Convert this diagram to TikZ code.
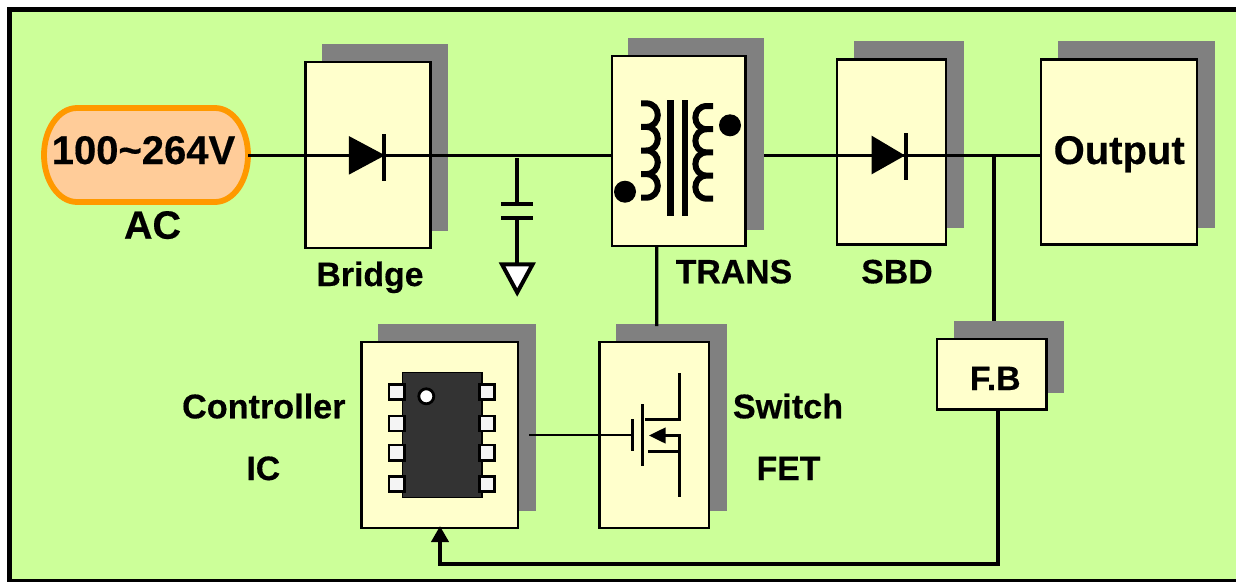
\documentclass[tikz,border=0pt]{standalone}
\usepackage{fontspec}
\setmainfont[BoldFeatures={FakeBold=0.4}]{Liberation Sans}
\usetikzlibrary{arrows.meta}
\definecolor{bggreen}{HTML}{CCFF99}
\definecolor{boxyellow}{HTML}{FFFFCC}
\definecolor{shadowgrey}{HTML}{808080}
\definecolor{pillfill}{HTML}{FFCC99}
\definecolor{pillline}{HTML}{FF9900}
\definecolor{chipbody}{HTML}{333333}
\definecolor{pinfill}{HTML}{F4F4F4}
\tikzset{
  blockbox/.style={draw=black,fill=boxyellow,line width=2.8pt,rectangle,inner sep=0pt,outer sep=0pt},
  blockshadow/.style={fill=shadowgrey},
  biglabel/.style={anchor=base,inner sep=0pt,outer sep=0pt,font=\fontsize{40}{48}\selectfont\bfseries},
  smalllabel/.style={anchor=base,inner sep=0pt,outer sep=0pt,font=\fontsize{33.8}{40}\selectfont\bfseries},
  widelabel/.style={anchor=base,inner sep=0pt,outer sep=0pt,font=\fontsize{34.2}{40}\selectfont\bfseries},
  thinwire/.style={draw=black,line width=2.7pt},
  thickwire/.style={draw=black,line width=3.9pt},
  fetline/.style={draw=black,line width=3pt},
  chippin/.style={draw=black,fill=pinfill,line width=2.8pt},
  coilline/.style={draw=black,line width=6pt},
  anchorbox/.style={rectangle,inner sep=0pt,outer sep=0pt}
}
\begin{document}
\begin{tikzpicture}[x=1pt,y=-1pt]
\clip (0,0) rectangle (1236,581);
\fill[white] (0,0) rectangle (1236,581);
\draw[line width=5.6pt,fill=bggreen] (9.6,9.6) rectangle (1260,581.8);

% shadows
\fill[blockshadow] (322,44) rectangle (448,230.7);
\fill[blockshadow] (628,38) rectangle (764,230);
\fill[blockshadow] (854,41) rectangle (964,228);
\fill[blockshadow] (1058,41) rectangle (1215,228);
\fill[blockshadow] (378,324) rectangle (535.7,511);
\fill[blockshadow] (616,324) rectangle (727,511);
\fill[blockshadow] (954,321) rectangle (1064,392.7);

% blocks
\node[blockbox,minimum width=125.2pt,minimum height=186pt] (bridge) at (368.1,155) {};
\node[blockbox,minimum width=133.5pt,minimum height=190pt] (trans) at (678.75,151) {};
\node[blockbox,minimum width=109pt,minimum height=185pt] (sbd) at (891.5,151.8) {};
\node[blockbox,minimum width=156pt,minimum height=185pt] (output) at (1119,152.2) {};
\node[blockbox,minimum width=156.5pt,minimum height=186pt] (ic) at (439.75,435) {};
\node[blockbox,minimum width=109.5pt,minimum height=186pt] (fet) at (654.25,435) {};
\node[blockbox,minimum width=109.5pt,minimum height=70.3pt] (fb) at (991.75,374.15) {};

% AC source pill
\draw[draw=pillline,fill=pillfill,line width=5.8pt]
  (77,108) -- (215,108)
  .. controls (233.2,108) and (248,129) .. (248,155)
  .. controls (248,181) and (233.2,202) .. (215,202)
  -- (77,202)
  .. controls (58.8,202) and (44,181) .. (44,155)
  .. controls (44,129) and (58.8,108) .. (77,108) -- cycle;
\node[anchorbox,minimum width=204pt,minimum height=94pt] (pill) at (146,155.3) {};

% connectors
\coordinate (transout) at (764,155.7);
\coordinate (gate) at (632.3,435);
\draw[thinwire] (pill.east) -- (trans.west |- pill.east);
\draw[thinwire] (transout) -- (output.west |- transout);
\draw[thickwire] ([xshift=1.95pt]fb.north |- transout) -- ([xshift=1.95pt,yshift=18pt]fb.north);
\draw[line width=3.4pt] ([xshift=-22pt]trans.south) -- ([xshift=2.45pt,yshift=16pt]fet.north);
\draw[thinwire] ([xshift=11pt]ic.east) -- (gate);
\draw[thickwire,-{Triangle[width=17pt,length=16pt]}]
  ([xshift=5.95pt]fb.south) |- (440,564.3) -- ([xshift=0.25pt,yshift=2pt]ic.south);

% bridge diode
\fill (348.8,136) -- (385,155.3) -- (348.8,174.7) -- cycle;
\draw[line width=4pt] (383.8,134) -- (383.8,180.7);
% SBD diode
\fill (871.7,135.7) -- (905,155.5) -- (871.7,174.3) -- cycle;
\draw[line width=4pt] (906,133.3) -- (906,180.3);

% capacitor and ground
\draw[line width=3.6pt] (517.2,158) -- (517.2,204.3);
\draw[line width=4pt] (501.4,204.3) -- (533,204.3);
\draw[line width=4pt] (501.4,217.7) -- (533,217.7);
\draw[line width=3.6pt] (517.2,217.7) -- (517.2,264);
\draw[line width=4pt,fill=white] (502,264.3) -- (532.6,264.3) -- (517.2,292.5) -- cycle;

% transformer
\fill (667.3,100) rectangle (674,215.7);
\fill (681.7,100) rectangle (688,215.7);
\draw[coilline] (641,103.3) -- (646,103.3)
  .. controls (661.7,103.3) and (661.7,126.9) .. (646,126.9) -- (641,126.9) -- (646,126.9)
  .. controls (661.7,126.9) and (661.7,150.5) .. (646,150.5) -- (641,150.5) -- (646,150.5)
  .. controls (661.7,150.5) and (661.7,174.1) .. (646,174.1) -- (641,174.1) -- (646,174.1)
  .. controls (661.7,174.1) and (661.7,197.7) .. (646,197.7) -- (641,197.7);
\draw[coilline] (713,106) -- (707,106)
  .. controls (691.5,106) and (691.5,129.2) .. (707,129.2) -- (713,129.2) -- (707,129.2)
  .. controls (691.5,129.2) and (691.5,152.4) .. (707,152.4) -- (713,152.4) -- (707,152.4)
  .. controls (691.5,152.4) and (691.5,175.6) .. (707,175.6) -- (713,175.6) -- (707,175.6)
  .. controls (691.5,175.6) and (691.5,198.7) .. (707,198.7) -- (713,198.7);
\fill (625,191.7) circle[radius=11pt];
\fill (730,125.3) circle[radius=11pt];

% IC chip
\draw[draw=black,fill=chipbody,line width=1.6pt] (402.4,372.4) rectangle (482,497.6);
\foreach \ya/\yb in {384.5/399.8,416/431,445/460.5,476.2/491.5}{
  \draw[chippin] (388.9,\ya) rectangle (404.5,\yb);
  \draw[chippin] (479.2,\ya) rectangle (494.8,\yb);
}
\draw[draw=black,fill=white,line width=2.8pt] (426.3,396.3) circle[radius=7.5pt];

% FET symbol
\draw[fetline] (632.3,419.3) -- (632.3,450.7);
\draw[fetline] (642.3,404) -- (642.3,466);
\draw[fetline] (645,419.3) -- (679.7,419.3) -- (679.7,372.7);
\draw[fetline] (648.3,451) -- (679.7,451) -- (679.7,497);
\draw[fetline] (664,435) -- (679.7,435) -- (679.7,451);
\fill (649,435.5) -- (665.7,427.3) -- (665.7,443.7) -- cycle;

% labels
\node[biglabel] (acvolt) at (143.5,164) {100\textasciitilde 264V};
\node[biglabel,font=\fontsize{39.5}{48}\selectfont\bfseries] (aclabel) at (152.5,238.7) {AC};
\node[smalllabel] (bridgelabel) at (370,286) {Bridge};
\node[smalllabel] (translabel) at (734,283.3) {TRANS};
\node[smalllabel] (sbdlabel) at (897,283.3) {SBD};
\node[biglabel] (outputlabel) at (1119.2,164) {Output};
\node[smalllabel] (fblabel) at (995.2,390) {F.B};
\node[widelabel] (controllerlabel) at (263.8,418.3) {Controller};
\node[smalllabel] (iclabel) at (263.3,480) {IC};
\node[widelabel] (switchlabel) at (788,418.3) {Switch};
\node[smalllabel] (fetlabel) at (788.5,480) {FET};
\end{tikzpicture}
\end{document}
